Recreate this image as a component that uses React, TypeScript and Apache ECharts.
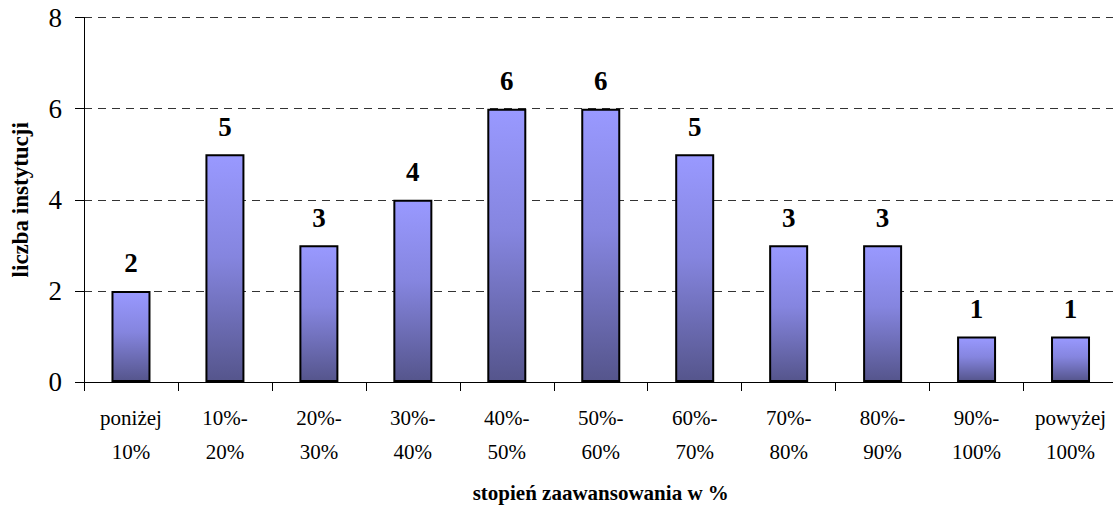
import React, { useEffect, useRef } from "react";
import * as echarts from "echarts";

const categories = [
  "poniżej\n10%",
  "10%-\n20%",
  "20%-\n30%",
  "30%-\n40%",
  "40%-\n50%",
  "50%-\n60%",
  "60%-\n70%",
  "70%-\n80%",
  "80%-\n90%",
  "90%-\n100%",
  "powyżej\n100%",
];
const counts = [2, 5, 3, 4, 6, 6, 5, 3, 3, 1, 1];
const yTicks = { min: 0, max: 8, interval: 2 };
const yName = "liczba instytucji";
const xName = "stopień zaawansowania w %";

const FONT = "'Liberation Serif', 'Times New Roman', serif";

export default function App() {
  const ref = useRef<HTMLDivElement>(null);
  useEffect(() => {
    document.body.style.margin = "0";
    const chart = echarts.init(ref.current!, null, { renderer: "svg" });
    chart.setOption({
      animation: false,
      grid: {
        left: 84,
        top: 17.5,
        width: 1033.5,
        height: 364.5,
        containLabel: false,
        outerBoundsMode: "none",
      },
      xAxis: {
        type: "category",
        data: categories,
        boundaryGap: true,
        name: xName,
        nameLocation: "middle",
        nameGap: 100,
        nameTextStyle: {
          fontFamily: FONT,
          fontWeight: "bold",
          fontSize: 21,
          color: "#000",
        },
        axisLine: { lineStyle: { color: "#000", width: 1 } },
        axisTick: { show: true, length: 9, lineStyle: { color: "#000" } },
        axisLabel: {
          fontFamily: FONT,
          fontSize: 21,
          color: "#000",
          lineHeight: 34,
          margin: 19,
          interval: 0,
        },
      },
      yAxis: {
        type: "value",
        min: yTicks.min,
        max: yTicks.max,
        interval: yTicks.interval,
        name: yName,
        nameLocation: "middle",
        nameGap: 52,
        nameRotate: 90,
        nameTextStyle: {
          fontFamily: FONT,
          fontWeight: "bold",
          fontSize: 23,
          color: "#000",
        },
        axisLine: { show: true, lineStyle: { color: "#000", width: 1 } },
        axisTick: { show: true, length: 9, lineStyle: { color: "#000" } },
        axisLabel: {
          fontFamily: FONT,
          fontSize: 27,
          color: "#000",
          margin: 22,
        },
        splitLine: {
          show: true,
          lineStyle: { color: "#333", type: [8, 6], width: 1 },
        },
      },
      series: [
        {
          type: "bar",
          data: counts,
          barWidth: 39,
          itemStyle: {
            color: new echarts.graphic.LinearGradient(0, 0, 0, 1, [
              { offset: 0, color: "#9999ff" },
              { offset: 0.45, color: "#8585df" },
              { offset: 1, color: "#55558c" },
            ]),
            borderColor: "#000",
            borderWidth: 2,
          },
          label: {
            show: true,
            position: "top",
            distance: 14,
            fontFamily: FONT,
            fontWeight: "bold",
            fontSize: 27,
            color: "#000",
          },
        },
      ],
    });
    return () => chart.dispose();
  }, []);
  return <div ref={ref} style={{ width: 1113, height: 506 }} />;
}
